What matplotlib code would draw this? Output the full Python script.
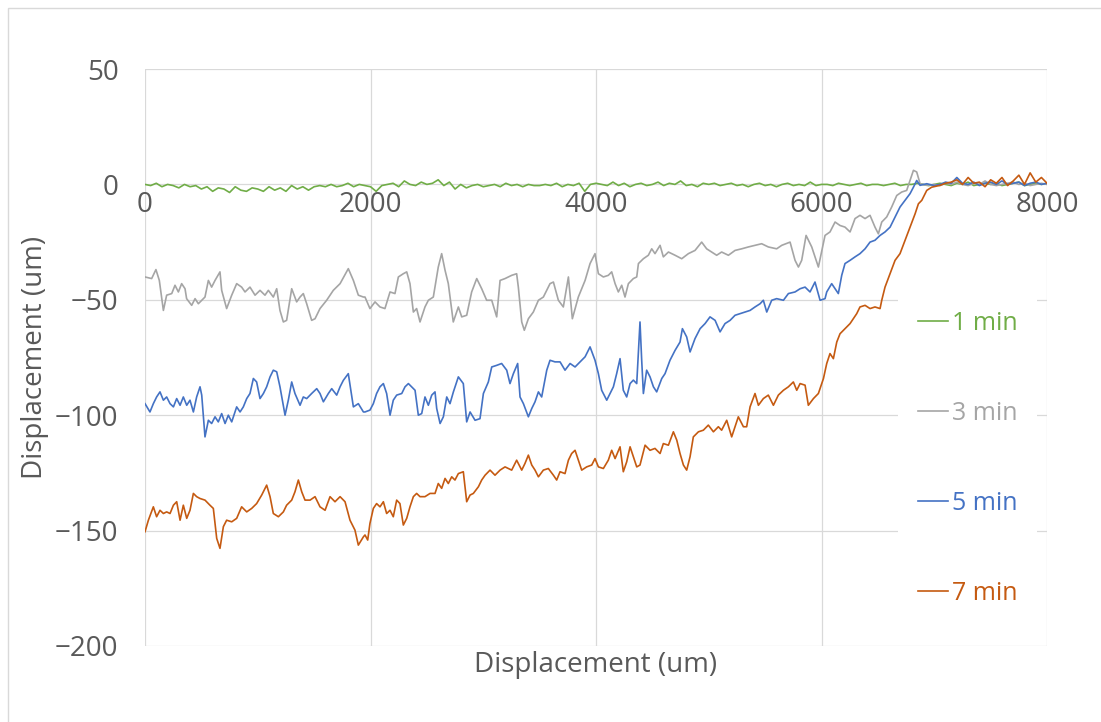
import matplotlib
matplotlib.use("Agg")
import matplotlib.pyplot as plt
from matplotlib.patches import Rectangle

plt.rcParams['font.family'] = ['Open Sans', 'DejaVu Sans']

# 1 min: sampled every 50 um
green_x = list(range(0, 8001, 50))
green_y = [0, -0.5, 0.5, -1, 0, -0.5, -1.5, 0, -1, -0.5, -2,
           -1, -3, -1.5, -2, -3.5, -1, -2.5, -3, -1.5, -2,
           -3, -1, -2.5, -1.5, -3, -0.5, -2, -1, -2.5, -1,
           -0.5, -1, 0, -1, -0.5, 0.5, -1, 0, -0.5, -1,
           -3, -0.5, 0, 0.5, -1, 1.5, 0, -0.5, 1, 0,
           0.5, 2, -0.5, 1, -2, 0, -1.5, -0.5, 0, -1,
           -0.5, 0, -1, 0.5, -0.5, 0, -1, 0, -0.5, -0.5,
           0, -0.5, 0.5, -1, 0, -0.5, 0.5, -3, 0, 0.5,
           0, -0.5, 1, -0.5, 0.5, -1, 0, 0.5, -0.5, 0,
           1, -0.5, 0.5, 0, 1.5, -0.5, 0, -1, 0.5, 0,
           0.5, -0.5, 0, 0.5, -0.5, 0, -1, 0, 0.5, -0.5,
           0, -1, 0, 0.5, -0.5, 0, -0.5, 1, -0.5, 0,
           0, -0.5, 0.5, 0, -0.5, 0, 0.5, -0.5, 0, 0,
           -0.5, 0, 0.5, -0.5, 0, 0, 0.5, 0, -0.5, 0,
           0.5, 0, -0.5, 0.5, 0, 1, -0.5, 0, 0.5, 0,
           0.5, -0.5, 0, 0.5, 1, -0.5, 0, 0.5, 0, 0.5]

# 3 min
gray_pts = [(0, -40.1), (59, -40.8), (97, -36.9), (127, -41.6), (163, -54.6), (192, -48.0),
            (237, -47.3), (266, -43.7), (296, -46.6), (325, -43.0), (355, -45.2), (369, -49.5),
            (414, -52.4), (444, -49.5), (473, -51.7), (503, -50.2), (532, -48.8), (562, -41.6),
            (591, -44.5), (621, -41.6), (665, -37.9), (680, -45.9), (724, -53.8), (769, -48.0),
            (813, -43.0), (857, -44.5), (887, -46.6), (931, -44.5), (976, -48.0), (1020, -45.9),
            (1064, -48.0), (1094, -45.9), (1138, -48.8), (1168, -45.2), (1197, -54.6), (1227, -59.6),
            (1256, -58.9), (1301, -45.2), (1345, -50.9), (1375, -48.8), (1404, -47.3), (1434, -51.7),
            (1478, -58.9), (1508, -58.2), (1552, -53.8), (1611, -50.2), (1670, -45.9), (1730, -43.0),
            (1803, -36.5), (1848, -41.6), (1892, -48.0), (1937, -48.8),
            (1951, -48.8), (1995, -53.8), (2040, -50.9), (2084, -53.1), (2128, -53.8), (2173, -46.6),
            (2217, -47.3), (2247, -40.1), (2291, -38.7), (2321, -37.9), (2350, -43.0), (2380, -55.3),
            (2409, -53.8), (2439, -59.6), (2483, -53.1), (2513, -50.2), (2557, -48.8), (2601, -35.8),
            (2631, -30.0), (2661, -37.2), (2690, -43.0), (2734, -59.6), (2779, -53.1), (2809, -57.4),
            (2853, -56.7), (2897, -46.6), (2942, -40.8), (2986, -45.2), (3030, -50.2), (3075, -50.2),
            (3119, -57.4), (3149, -41.6), (3193, -40.8), (3252, -39.4), (3296, -38.7), (3311, -44.5),
            (3341, -59.6), (3364, -63.2), (3400, -58.2), (3444, -55.3), (3489, -50.2), (3533, -48.8),
            (3592, -43.0), (3622, -42.3), (3666, -50.2), (3710, -53.1), (3755, -40.1), (3790, -58.2),
            (3843, -48.8), (3903, -41.6), (3947, -34.3), (3991, -30.0),
            (4021, -38.7), (4065, -40.1), (4109, -39.4), (4139, -37.9), (4169, -43.0), (4198, -46.6),
            (4228, -43.7), (4257, -48.8), (4287, -43.0), (4331, -40.8), (4361, -40.1), (4376, -34.3),
            (4420, -32.2), (4464, -30.7), (4494, -27.9), (4523, -30.0), (4568, -26.4), (4597, -31.4),
            (4642, -29.3), (4701, -30.7), (4760, -32.2), (4819, -30.0), (4878, -28.6), (4937, -25.0),
            (4981, -27.9), (5026, -29.3), (5070, -30.7), (5114, -29.3), (5174, -30.7), (5233, -28.6),
            (5292, -27.9), (5351, -27.1), (5410, -26.4), (5469, -25.7), (5528, -27.1), (5602, -27.9),
            (5647, -26.4), (5721, -25.0), (5765, -32.9), (5795, -35.8), (5824, -32.9), (5863, -22.1),
            (5913, -27.1), (5972, -35.8),
            (6031, -22.1), (6075, -20.6), (6120, -16.3), (6164, -17.8), (6208, -18.5), (6253, -20.6),
            (6297, -14.8), (6341, -13.4), (6386, -14.8), (6430, -13.4), (6474, -18.5), (6504, -21.4),
            (6534, -16.3), (6578, -14.1), (6622, -9.8), (6667, -4.8), (6711, -3.3), (6755, -2.6),
            (6785, 1.7), (6815, 6.1), (6844, 5.4), (6874, 0.3), (6933, -0.4)]
gray_tail = [0, -0.5, 0.5, 0, 1, 0, -0.5, 0.5, 0, 1.5, 0, -0.5, 0, 0.5, 1, 0, 0.5, -0.5, 0, 0.5, 0]

# 5 min
blue_pts = [(0, -95.0), (44, -98.6), (74, -95.0), (103, -92.1), (133, -89.9), (163, -93.5),
            (192, -92.1), (222, -95.0), (252, -96.4), (281, -92.8), (311, -95.7), (340, -92.1),
            (370, -95.7), (399, -93.5), (429, -98.6), (458, -92.1), (488, -87.7), (503, -91.3),
            (532, -109.4), (562, -102.2), (591, -103.6), (621, -100.7), (650, -102.9), (680, -99.3),
            (710, -103.6), (739, -100.0), (769, -102.9), (813, -96.4), (843, -98.6), (872, -96.4),
            (902, -92.8), (931, -90.6), (961, -84.1), (990, -85.6), (1020, -92.8), (1050, -90.6),
            (1079, -87.7), (1109, -83.4), (1138, -80.5), (1168, -81.2), (1197, -87.7), (1242, -100.0),
            (1271, -93.5), (1301, -85.6), (1330, -90.6), (1375, -95.7), (1404, -92.1), (1434, -92.8),
            (1478, -90.6), (1523, -88.5), (1552, -90.6), (1582, -94.2), (1626, -90.6), (1656, -88.5),
            (1700, -91.3), (1730, -87.7), (1759, -84.9), (1803, -82.0), (1848, -96.4), (1892, -95.0),
            (1937, -98.6),
            (1951, -98.6), (1995, -97.8), (2025, -95.0), (2054, -90.6), (2084, -87.7), (2114, -86.3),
            (2143, -90.6), (2173, -100.0), (2202, -93.5), (2232, -91.3), (2277, -90.6), (2306, -87.7),
            (2336, -86.3), (2365, -87.7), (2395, -89.2), (2424, -100.0), (2454, -99.3), (2483, -92.1),
            (2513, -95.7), (2543, -91.3), (2572, -89.9), (2587, -97.1), (2617, -103.6), (2646, -100.7),
            (2676, -92.1), (2705, -95.0), (2735, -89.9), (2779, -83.4), (2823, -86.3), (2853, -102.9),
            (2883, -98.6), (2927, -102.2), (2971, -101.5), (3001, -90.6), (3045, -85.6), (3075, -79.1),
            (3119, -78.4), (3163, -77.6), (3208, -80.5), (3237, -86.3), (3267, -82.0), (3305, -77.6),
            (3326, -92.1), (3356, -95.0), (3400, -100.7), (3430, -97.1), (3459, -94.2), (3489, -89.9),
            (3518, -92.1), (3563, -80.5), (3592, -76.2), (3636, -76.9), (3681, -76.9), (3725, -80.5),
            (3770, -77.6), (3814, -79.1), (3858, -76.9), (3903, -74.7), (3947, -70.4), (3991, -76.2),
            (4021, -82.0), (4050, -89.2), (4095, -93.5), (4124, -90.6), (4154, -87.7), (4183, -82.0),
            (4213, -75.5), (4242, -89.2), (4272, -92.1), (4302, -86.3), (4331, -84.8), (4361, -86.3),
            (4390, -59.6), (4405, -76.2), (4420, -90.6), (4449, -80.5), (4479, -83.4), (4509, -87.7),
            (4538, -89.9), (4583, -84.1), (4612, -82.0), (4656, -76.2), (4701, -71.9), (4745, -68.3),
            (4766, -62.5), (4804, -66.1), (4834, -72.6), (4878, -66.8), (4923, -62.5), (4967, -60.3),
            (5011, -57.4), (5056, -58.9), (5100, -63.9), (5144, -60.3), (5189, -58.9), (5233, -56.7),
            (5277, -56.0), (5322, -55.3), (5366, -54.6), (5410, -53.1), (5455, -51.7), (5484, -50.2),
            (5514, -55.3), (5558, -50.2), (5602, -49.5), (5662, -50.2), (5706, -47.3), (5765, -46.6),
            (5810, -45.2), (5854, -44.5), (5898, -46.6), (5942, -42.3), (5987, -50.2), (6031, -49.5),
            (6046, -46.6), (6090, -43.0), (6120, -45.2), (6149, -47.3), (6179, -39.4), (6208, -34.3),
            (6253, -32.9), (6297, -31.4), (6341, -30.0), (6386, -27.9), (6430, -25.0), (6474, -24.2),
            (6519, -22.1), (6563, -20.6), (6608, -18.5), (6652, -14.1), (6696, -9.8), (6741, -6.9),
            (6785, -4.0), (6815, -1.2), (6844, 1.7), (6874, -0.4), (6933, 0.3)]
blue_tail = [-0.5, 0, 1, 0.5, 3, 0.5, 0, 1, -0.5, 0.5, 1, 0, 1.5, 0, 0.5, 1, -0.5, 0.5, 1, 0, 0.5]

# 7 min
orange_pts = [(0, -150.5), (30, -145.5), (74, -139.7), (103, -144.0), (133, -141.2), (163, -142.6),
              (192, -141.9), (222, -142.6), (252, -139.0), (281, -137.5), (311, -145.5), (340, -139.0),
              (370, -144.7), (399, -141.2), (429, -133.9), (458, -135.3), (488, -136.1), (532, -136.8),
              (576, -139.0), (606, -140.4), (636, -153.4), (665, -157.7), (695, -148.3), (724, -145.5),
              (769, -146.2), (813, -144.7), (857, -139.7), (902, -141.9), (946, -140.4), (990, -138.3),
              (1035, -134.6), (1079, -130.3), (1109, -135.3), (1138, -142.6), (1183, -144.0), (1227, -141.9),
              (1256, -139.0), (1301, -136.8), (1330, -133.2), (1360, -128.1), (1390, -133.2), (1419, -136.8),
              (1464, -136.8), (1508, -135.3), (1552, -139.7), (1597, -141.2), (1641, -135.3), (1685, -137.5),
              (1730, -135.3), (1774, -137.5), (1818, -145.5), (1862, -149.8), (1892, -156.3), (1937, -152.7),
              (1951, -151.9), (1975, -154.1), (1995, -146.9), (2025, -140.4), (2054, -138.3), (2084, -139.7),
              (2114, -137.5), (2143, -142.6), (2173, -141.2), (2202, -144.0), (2232, -136.8), (2261, -138.3),
              (2291, -147.6), (2321, -144.7), (2350, -139.7), (2380, -135.3), (2409, -133.9), (2439, -135.3),
              (2483, -135.3), (2528, -133.9), (2572, -133.9), (2601, -129.6), (2631, -131.7), (2661, -127.4),
              (2690, -129.6), (2720, -126.7), (2749, -128.1), (2779, -125.3), (2823, -124.5), (2853, -137.5),
              (2883, -134.6), (2912, -133.9), (2957, -131.0), (2986, -128.1), (3016, -126.0), (3060, -123.8),
              (3104, -126.0), (3149, -123.8), (3193, -122.4), (3252, -123.8), (3296, -119.5), (3341, -123.8),
              (3370, -120.9), (3400, -117.3), (3430, -121.6), (3459, -123.8), (3489, -126.7), (3533, -123.8),
              (3577, -123.1), (3622, -126.0), (3651, -128.1), (3681, -124.5), (3725, -125.3), (3755, -119.5),
              (3784, -116.6), (3814, -115.2), (3843, -119.5), (3873, -123.8), (3917, -122.4), (3962, -121.6),
              (3991, -118.8),
              (4021, -122.4), (4065, -123.1), (4109, -119.5), (4139, -115.2), (4169, -118.8), (4213, -113.7),
              (4242, -124.5), (4272, -120.2), (4302, -113.7), (4331, -118.0), (4361, -122.4), (4390, -121.6),
              (4435, -113.0), (4479, -115.2), (4523, -114.4), (4568, -116.6), (4597, -112.3), (4642, -113.0),
              (4686, -107.2), (4716, -110.8), (4745, -116.6), (4775, -121.6), (4804, -123.8), (4834, -118.0),
              (4863, -109.4), (4908, -107.2), (4952, -106.5), (4996, -104.3), (5041, -107.2), (5085, -105.0),
              (5114, -106.5), (5159, -102.2), (5203, -109.4), (5233, -105.0), (5262, -100.7), (5307, -105.0),
              (5336, -105.0), (5366, -96.4), (5410, -90.6), (5440, -95.7), (5484, -92.8), (5528, -91.3),
              (5573, -95.7), (5617, -91.3), (5662, -89.2), (5706, -87.7), (5750, -85.6), (5780, -89.2),
              (5810, -86.3), (5854, -87.0), (5883, -95.7), (5928, -92.8), (5972, -90.6),
              (6017, -84.1), (6046, -77.6), (6075, -73.3), (6105, -75.5), (6135, -68.3), (6164, -64.7),
              (6194, -63.2), (6223, -61.8), (6253, -60.3), (6282, -58.2), (6312, -56.0), (6341, -53.1),
              (6386, -52.4), (6430, -53.8), (6474, -53.1), (6519, -53.8), (6534, -50.2), (6563, -44.5),
              (6608, -38.7), (6652, -32.9), (6696, -30.0), (6741, -24.2), (6785, -18.5), (6830, -12.7),
              (6859, -8.4), (6889, -6.9), (6933, -2.6), (6977, -1.2), (7051, -0.4)]
orange_tail = [0.5, 1, 2, 0, 3, 0.5, 1, -1, 2, 0.5, 3, -0.5, 1.5, 4, 0, 5, 1, 3, 0.5]

labels = ["1 min", "3 min", "5 min", "7 min"]
colors = ["#70AD47", "#A5A5A5", "#4472C4", "#C55A11"]

gray_x = [p[0] for p in gray_pts] + list(range(7000, 8001, 50))
gray_y = [p[1] for p in gray_pts] + gray_tail
blue_x = [p[0] for p in blue_pts] + list(range(7000, 8001, 50))
blue_y = [p[1] for p in blue_pts] + blue_tail
orange_x = [p[0] for p in orange_pts] + list(range(7100, 8001, 50))
orange_y = [p[1] for p in orange_pts] + orange_tail

fig = plt.figure(figsize=(11.01, 7.22), dpi=100)
ax = fig.add_axes([0.1317, 0.1053, 0.8193, 0.7991])

series = [(green_x, green_y), (gray_x, gray_y), (blue_x, blue_y), (orange_x, orange_y)]
for (xs, ys), lab, col in zip(series, labels, colors):
    ax.plot(xs, ys, color=col, lw=1.2, label=lab)

ax.set_xlim(0, 8000)
ax.set_ylim(-200, 50)
ax.set_xticks([0, 2000, 4000, 6000, 8000])
ax.set_yticks([-200, -150, -100, -50, 0, 50])
ax.grid(True, color="#D9D9D9", lw=0.9)
ax.set_axisbelow(True)
for s in ["top", "right", "left", "bottom"]:
    ax.spines[s].set_visible(False)
# x tick labels sit on the zero line, like Excel's crossing axis
ax.spines["bottom"].set_position(("data", 0))
ax.tick_params(axis="both", length=0, labelsize=20, labelcolor="#595959")
ax.tick_params(axis="x", pad=5)
ax.tick_params(axis="y", pad=19)

ax.set_xlabel("Displacement (um)", fontsize=20, color="#595959")
ax.xaxis.set_label_coords(0.5, -0.008)
ax.set_ylabel("Displacement (um)", fontsize=20, color="#595959")
ax.yaxis.set_label_coords(-0.122, 0.5)
ax.yaxis.label.set_va("center")

leg = ax.legend(loc="center", bbox_to_anchor=(0.912, 0.325), fontsize=18,
                labelcolor="linecolor", handlelength=1.2, handletextpad=0.15,
                labelspacing=2.6, borderpad=0.8, frameon=True, fancybox=False,
                framealpha=1, facecolor="white", edgecolor="none")

fig.add_artist(Rectangle((0.007, -0.01), 1.0, 0.999, transform=fig.transFigure,
                         fill=False, ec="#D9D9D9", lw=1))

fig.savefig("out.png", dpi=100)
